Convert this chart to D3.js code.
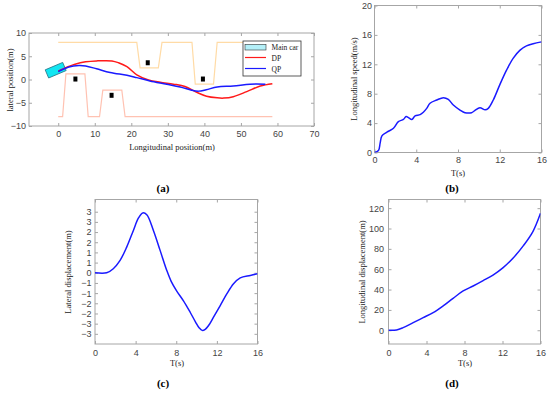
<!DOCTYPE html>
<html>
<head>
<meta charset="utf-8">
<script src="https://cdn.jsdelivr.net/npm/d3@7"></script>
<style>
  body { margin: 0; background: #fff; }
  svg { display: block; }
  .tick text { font-family: Arial, "Liberation Sans", sans-serif; font-size: 9px; fill: #444; }
  .lbl { font-family: "Times New Roman", "Liberation Serif", serif; font-size: 8.5px; fill: #222; }
  .cap { font-family: "Times New Roman", "Liberation Serif", serif; font-size: 11px; font-weight: bold; fill: #000; }
</style>
</head>
<body>
<svg id="chart" width="550" height="395"></svg>
<script>
// ---- panel (a): path planning ----
const upperBound = [[0, 8], [21.5, 8], [22.4, 2.5], [27.4, 2.5], [28.4, 8], [36.6, 8], [37.5, -1], [42.5, -1], [43.5, 8], [58.6, 8]];
const lowerBound = [[0, -8], [1.2, -8], [2.1, 1.2], [7.3, 1.2], [8.2, -8], [11.3, -8], [12.2, -2.3], [17.4, -2.3], [18.3, -8], [58.6, -8]];
const obstacles = [[4.7, 0.1], [14.6, -3.4], [24.5, 3.6], [39.6, 0.1]];
const mainCar = { x: -0.7, y: 2.0, length: 5.2, width: 1.9, heading: 23 };
const dpPath = [[0, 1.8], [2.5, 2.7], [4.6, 3.3], [7.5, 3.8], [10.5, 4.0], [14.7, 4.0], [16.5, 3.6], [18.8, 2.75], [21.5, 1.0], [24.7, -0.1], [27.9, -0.6], [31.5, -1.0], [34.7, -1.5], [37.9, -2.75], [40.6, -3.6], [43.5, -3.95], [45.3, -4.0], [47.9, -3.7], [51.6, -2.6], [55.3, -1.4], [58.6, -0.9]];
const qpPath = [[0, 1.7], [2.9, 2.7], [5.7, 3.0], [7.5, 2.9], [10.5, 2.3], [14.2, 1.5], [18.8, 0.9], [21.5, 0.4], [25.1, -0.3], [29.7, -1.0], [33.4, -1.6], [36.5, -2.3], [38.4, -2.5], [40.5, -2.2], [43.5, -1.6], [47.9, -1.4], [52.5, -1.0], [56.7, -1.0]];

// ---- panel (b): longitudinal speed ----
const speedT = [0, 0.38, 0.54, 0.71, 1.19, 1.82, 2.29, 2.77, 3.03, 3.25, 3.58, 3.89, 4.37, 4.68, 5.0, 5.32, 5.96, 6.6, 7.07, 7.55, 8.19, 8.67, 9.3, 9.6, 10.1, 10.6, 10.9, 11.38, 12.0, 12.65, 13.28, 13.92, 14.56, 15.2, 16];
const speedV = [0, 0.27, 1.27, 2.27, 2.77, 3.3, 4.2, 4.5, 4.9, 4.75, 4.5, 4.98, 5.16, 5.48, 6.0, 6.7, 7.14, 7.46, 7.23, 6.46, 5.78, 5.42, 5.42, 5.7, 6.1, 5.8, 6.0, 7.14, 9.2, 11.2, 12.8, 13.9, 14.5, 14.8, 15.05];

// ---- panel (c): lateral displacement ----
const latT = [0, 1.15, 1.8, 2.47, 3.12, 3.78, 4.27, 4.7, 5.1, 5.75, 6.41, 7.07, 7.5, 8.05, 8.71, 9.37, 9.9, 10.25, 10.55, 10.85, 11.2, 11.67, 12.33, 12.99, 13.64, 14.3, 15.29, 16];
const latY = [0, 0, 0.2, 0.61, 1.26, 2.08, 2.68, 2.94, 2.85, 2.08, 1.1, 0.11, -0.42, -0.9, -1.38, -1.94, -2.42, -2.7, -2.83, -2.78, -2.58, -2.18, -1.61, -1.03, -0.54, -0.25, -0.13, -0.05];

// ---- panel (d): longitudinal displacement ----
const lonT = [0, 0.84, 1.54, 2.6, 3.65, 4.7, 5.75, 6.8, 7.86, 8.91, 9.96, 11.0, 12.07, 13.1, 14.2, 15.2, 16];
const lonY = [0, 0.3, 2.6, 7.5, 12.4, 17.3, 23.9, 31.4, 38.6, 43.5, 48.8, 54.3, 61.6, 70.8, 83.2, 97, 115];

const svg = d3.select("#chart");
const AXIS = "#a6a6a6";

function makeAxes(box, xDom, yDom, xTicks, yTicks, xPad, yPad) {
  const x = d3.scaleLinear().domain(xDom).range([box.l, box.r]);
  const y = d3.scaleLinear().domain(yDom).range([box.b, box.t]);
  const g = svg.append("g");
  const styleAx = sel => {
    sel.select(".domain").remove();
    sel.selectAll(".tick line").attr("stroke", AXIS);
  };
  g.append("g").attr("transform", `translate(0,${box.b})`)
    .call(d3.axisBottom(x).tickValues(xTicks).tickSizeInner(-3).tickPadding(xPad)).call(styleAx);
  g.append("g").attr("transform", `translate(0,${box.t})`)
    .call(d3.axisTop(x).tickValues(xTicks).tickSizeInner(-3).tickFormat("")).call(styleAx);
  g.append("g").attr("transform", `translate(${box.l},0)`)
    .call(d3.axisLeft(y).tickValues(yTicks).tickSizeInner(-3).tickPadding(yPad)).call(styleAx);
  g.append("g").attr("transform", `translate(${box.r},0)`)
    .call(d3.axisRight(y).tickValues(yTicks).tickSizeInner(-3).tickFormat("")).call(styleAx);
  g.append("rect").attr("x", box.l).attr("y", box.t)
    .attr("width", box.r - box.l).attr("height", box.b - box.t)
    .attr("fill", "none").attr("stroke", AXIS).attr("stroke-width", 1);
  const clipId = "clip" + Math.round(box.l) + Math.round(box.t);
  svg.append("clipPath").attr("id", clipId).append("rect")
    .attr("x", box.l).attr("y", box.t).attr("width", box.r - box.l).attr("height", box.b - box.t);
  const plot = svg.append("g").attr("clip-path", `url(#${clipId})`);
  return { x, y, g, plot };
}

function label(text, x, y, rot) {
  const t = svg.append("text").attr("class", "lbl").attr("text-anchor", "middle").text(text);
  if (rot) t.attr("transform", `translate(${x},${y}) rotate(-90)`);
  else t.attr("x", x).attr("y", y);
}
function caption(text, x, y) {
  svg.append("text").attr("class", "cap").attr("text-anchor", "middle").attr("x", x).attr("y", y).text(text);
}
function curve(ax, ts, vs) {
  ax.plot.append("path").datum(ts.map((t, i) => [t, vs[i]]))
    .attr("d", d3.line().curve(d3.curveCatmullRom).x(d => ax.x(d[0])).y(d => ax.y(d[1])))
    .attr("fill", "none").attr("stroke", "#1a1aff").attr("stroke-width", 1.5);
}

// (a)
const A = makeAxes({ l: 29, r: 314, t: 33, b: 126 }, [-8, 70], [-10, 10], d3.range(0, 71, 10), [-10, -5, 0, 5, 10], 5, 3);
const lineA = d3.line().x(d => A.x(d[0])).y(d => A.y(d[1]));
A.plot.append("path").datum(upperBound).attr("d", lineA).attr("fill", "none").attr("stroke", "#ffdba6").attr("stroke-width", 1.2);
A.plot.append("path").datum(lowerBound).attr("d", lineA).attr("fill", "none").attr("stroke", "#ffc2b2").attr("stroke-width", 1.2);
A.plot.selectAll("rect.obs").data(obstacles).join("rect").attr("class", "obs")
  .attr("x", d => A.x(d[0]) - 2).attr("y", d => A.y(d[1]) - 2.5).attr("width", 4).attr("height", 5).attr("fill", "#000");
{
  const pxLen = A.x(mainCar.length) - A.x(0);
  const pxWid = A.y(0) - A.y(mainCar.width);
  A.plot.append("rect")
    .attr("x", -pxLen / 2).attr("y", -pxWid / 2).attr("width", pxLen).attr("height", pxWid)
    .attr("transform", `translate(${A.x(mainCar.x)},${A.y(mainCar.y)}) rotate(${-mainCar.heading})`)
    .attr("fill", "#12e6f2").attr("stroke", "#2b7a8c").attr("stroke-width", 0.8);
}
const smoothA = d3.line().curve(d3.curveCatmullRom).x(d => A.x(d[0])).y(d => A.y(d[1]));
A.plot.append("path").datum(dpPath).attr("d", smoothA).attr("fill", "none").attr("stroke", "#ff1a1a").attr("stroke-width", 1.5);
A.plot.append("path").datum(qpPath).attr("d", smoothA).attr("fill", "none").attr("stroke", "#1a1aff").attr("stroke-width", 1.5);

// legend
{
  const lg = svg.append("g").attr("transform", "translate(243,41)");
  lg.append("rect").attr("width", 58).attr("height", 35).attr("fill", "#fff").attr("stroke", "#333").attr("stroke-width", 0.8);
  lg.append("rect").attr("x", 2).attr("y", 3.3).attr("width", 21).attr("height", 5.7)
    .attr("fill", "#b4f0f8").attr("stroke", "#333").attr("stroke-width", 0.6);
  lg.append("line").attr("x1", 2).attr("x2", 23).attr("y1", 16.5).attr("y2", 16.5).attr("stroke", "#ff1a1a").attr("stroke-width", 1.2);
  lg.append("line").attr("x1", 2).attr("x2", 23).attr("y1", 27.5).attr("y2", 27.5).attr("stroke", "#1a1aff").attr("stroke-width", 1.2);
  ["Main car", "DP", "QP"].forEach((s, i) => {
    lg.append("text").attr("class", "lbl").attr("x", 28.5).attr("y", 8.8 + i * 11).style("font-size", "7.5px").text(s);
  });
}
label("lateral position(m)", 13, 80, true);
label("Longitudinal position(m)", 172, 150);
caption("(a)", 163, 192);

// (b)
const B = makeAxes({ l: 374.5, r: 541.5, t: 5.5, b: 152.5 }, [0, 16], [0, 20], [0, 4, 8, 12, 16], [0, 4, 8, 12, 16, 20], 4.5, 2.5);
curve(B, speedT, speedV);
label("Longitudinal speed(m/s)", 357, 79, true);
label("T(s)", 458, 175.5);
caption("(b)", 452, 192);

// (c)
const C = makeAxes({ l: 95, r: 257.5, t: 199.5, b: 344 }, [0, 16], [-3.5, 3.6], [0, 4, 8, 12, 16], d3.range(-3, 3.01, 0.5), 5.5, 3.5);
curve(C, latT, latY);
label("Lateral displacement(m)", 71, 272, true);
label("T(s)", 177, 365.5);
caption("(c)", 163, 387);

// (d)
const D = makeAxes({ l: 388.5, r: 540.5, t: 199.5, b: 344 }, [0, 16], [-13.5, 128.5], [0, 4, 8, 12, 16], d3.range(0, 121, 20), 5.5, 4.5);
curve(D, lonT, lonY);
label("Longitudinal displacement(m)", 365, 272, true);
label("T(s)", 465, 365.5);
caption("(d)", 452, 387);
</script>
</body>
</html>
